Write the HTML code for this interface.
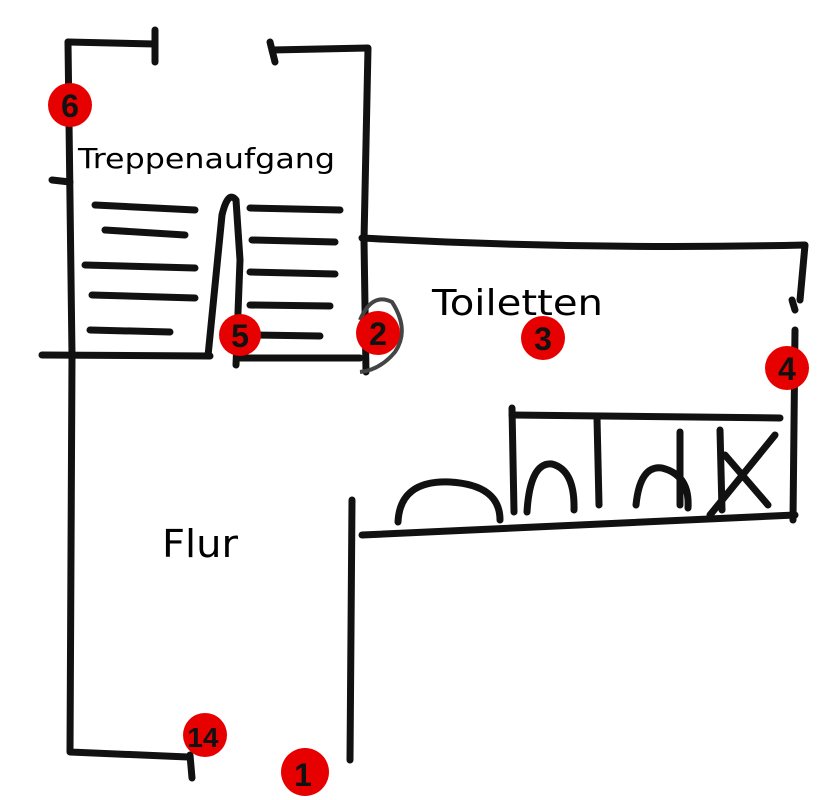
<!DOCTYPE html>
<html><head><meta charset="utf-8"><style>
html,body{margin:0;padding:0;background:#fff}
svg{display:block}
</style></head><body>
<svg width="832" height="800" viewBox="0 0 832 800" xmlns="http://www.w3.org/2000/svg">
<g fill="none" stroke="#111" stroke-width="7" stroke-linecap="round" stroke-linejoin="round">
<path d="M155,30 L155,62"/>
<path d="M68,42 L155,44"/>
<path d="M270,42 L275,62"/>
<path d="M272,50 L368,48 L364,240 L366,372"/>
<path d="M68,42 L70,200 L72,355 L70,752 L188,757"/>
<path d="M190,755 L192,778"/>
<path d="M42,355 L210,356 M240,358 L360,358"/>
<path d="M95,205 L195,210 M105,230 L185,235 M85,265 L195,268 M92,295 L195,298 M90,330 L170,332"/>
<path d="M250,208 L340,210 M252,240 L335,242 M250,272 L335,274 M250,305 L330,306 M255,335 L320,336"/>
<path d="M208,356 L222,215 Q228,190 236,200 L240,260 L236,365"/>
<path d="M362,238 Q580,250 805,245 L800,300"/>
<path d="M792,300 L795,310"/>
<path d="M795,330 L793,520"/>
<path d="M362,535 L795,515"/>
<path d="M512,415 L780,418"/>
<path d="M512,408 L514,512 M597,418 L599,505 M680,432 L680,505 M720,430 L722,510"/>
<path d="M398,522 Q400,480 450,482 Q500,485 500,520"/>
<path d="M527,512 Q530,462 552,464 Q575,470 574,510"/>
<path d="M636,505 Q640,465 662,468 Q690,475 688,508"/>
<path d="M710,515 L775,435 M725,455 L768,505"/>
<path d="M352,500 L350,760"/>
<path d="M52,180 L70,182"/>
</g>
<path d="M360,320 Q372,292 392,302 Q410,330 395,352 Q380,370 360,372" fill="none" stroke="#444" stroke-width="4"/>
<g fill="#e60000">
<circle cx="70" cy="105" r="22"/>
<circle cx="240" cy="335" r="21"/>
<circle cx="378" cy="333" r="22"/>
<circle cx="543" cy="338" r="22"/>
<circle cx="787" cy="368" r="22"/>
<circle cx="205" cy="735" r="22"/>
<circle cx="305" cy="772" r="24"/>
</g>
<g font-family="Liberation Sans, sans-serif" font-weight="bold" fill="#111" text-anchor="middle" font-size="32">
<text x="70" y="117">6</text>
<text x="240" y="347">5</text>
<text x="378" y="345">2</text>
<text x="543" y="350">3</text>
<text x="787" y="380">4</text>
<text x="203" y="747" font-size="28">14</text>
<text x="303" y="786">1</text>
</g>
<g font-family="DejaVu Sans, sans-serif" fill="#000">
<text x="78" y="168" font-size="28" textLength="257" lengthAdjust="spacingAndGlyphs">Treppenaufgang</text>
<text x="432" y="315" font-size="36" textLength="171" lengthAdjust="spacingAndGlyphs">Toiletten</text>
<text x="162" y="557" font-size="38" textLength="76" lengthAdjust="spacingAndGlyphs">Flur</text>
</g>
</svg>
</body></html>
